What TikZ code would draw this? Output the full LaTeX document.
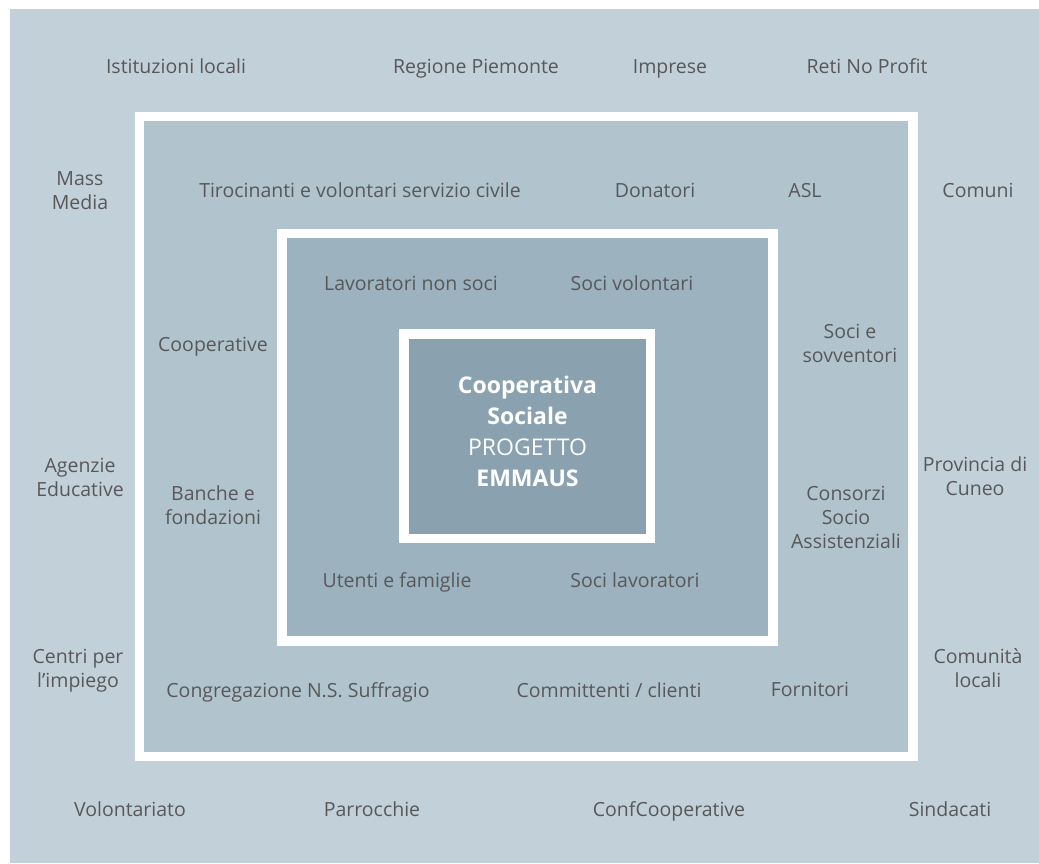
\documentclass[tikz,border=0pt]{standalone}
\usepackage{fontspec}
\setmainfont{Open Sans}
\definecolor{bgA}{HTML}{C2D0D9}
\definecolor{bgB}{HTML}{B1C3CD}
\definecolor{bgC}{HTML}{9CB2BF}
\definecolor{bgD}{HTML}{8AA2B0}
\definecolor{txt}{HTML}{58585A}
\begin{document}
\begin{tikzpicture}[x=1pt,y=-1pt,
  lbl/.style={text=txt,font=\fontsize{19.5}{24}\selectfont,align=center,inner sep=0pt,yshift=-3pt,
    execute at begin node=\strut, execute at end node=\strut},
  core/.style={text=white,font=\fontsize{23}{31}\selectfont\bfseries,align=center,inner sep=0pt,yshift=-5pt,
    execute at begin node=\strut, execute at end node=\strut}]
\useasboundingbox (0,0) rectangle (1039,863);
\fill[white] (0,0) rectangle (1039,863);
\fill[bgA] (10,9) rectangle (1039,863);
% frame 1
\fill[white] (135,112) rectangle (918,761);
\fill[bgB] (144,121) rectangle (908,752);
% frame 2
\fill[white] (277,229) rectangle (778,646);
\fill[bgC] (287,238) rectangle (768,636);
% frame 3
\fill[white] (399,329) rectangle (655,543);
\fill[bgD] (409,339) rectangle (646,534);
% core
\node[core] (core) at (527.5,431) {Cooperativa\\Sociale\\\mdseries PROGETTO\\\bfseries EMMAUS};
% outer ring
\node[lbl] (ist) at (176,66) {Istituzioni locali};
\node[lbl] (reg) at (476,66) {Regione Piemonte};
\node[lbl] (imp) at (670,66) {Imprese};
\node[lbl] (reti) at (867,66) {Reti No Profit};
\node[lbl] (mass) at (80,191) {Mass\\Media};
\node[lbl] (com) at (978,190) {Comuni};
\node[lbl] (agen) at (80,478) {Agenzie\\Educative};
\node[lbl] (prov) at (975,477) {Provincia di\\Cuneo};
\node[lbl] (cent) at (78,669) {Centri per\\l’impiego};
\node[lbl] (comu) at (978,669) {Comunità\\locali};
\node[lbl] (vol) at (130,809) {Volontariato};
\node[lbl] (par) at (372,809) {Parrocchie};
\node[lbl] (conf) at (669,809) {ConfCooperative};
\node[lbl] (sind) at (950,809) {Sindacati};
% middle ring
\node[lbl] (tir) at (360,190) {Tirocinanti e volontari servizio civile};
\node[lbl] (don) at (655,190) {Donatori};
\node[lbl] (asl) at (805,190) {ASL};
\node[lbl] (coop) at (213,344) {Cooperative};
\node[lbl] (socs) at (850,344) {Soci e\\sovventori};
\node[lbl] (banc) at (213,506) {Banche e\\fondazioni};
\node[lbl] (cons) at (846,518) {Consorzi\\Socio\\Assistenziali};
\node[lbl] (cong) at (298,690) {Congregazione N.S. Suffragio};
\node[lbl] (comm) at (609,690) {Committenti / clienti};
\node[lbl] (forn) at (810,689) {Fornitori};
% inner ring
\node[lbl] (lav) at (411,283) {Lavoratori non soci};
\node[lbl] (socv) at (632,283) {Soci volontari};
\node[lbl] (ute) at (397,580) {Utenti e famiglie};
\node[lbl] (socl) at (635,580) {Soci lavoratori};
\end{tikzpicture}
\end{document}
